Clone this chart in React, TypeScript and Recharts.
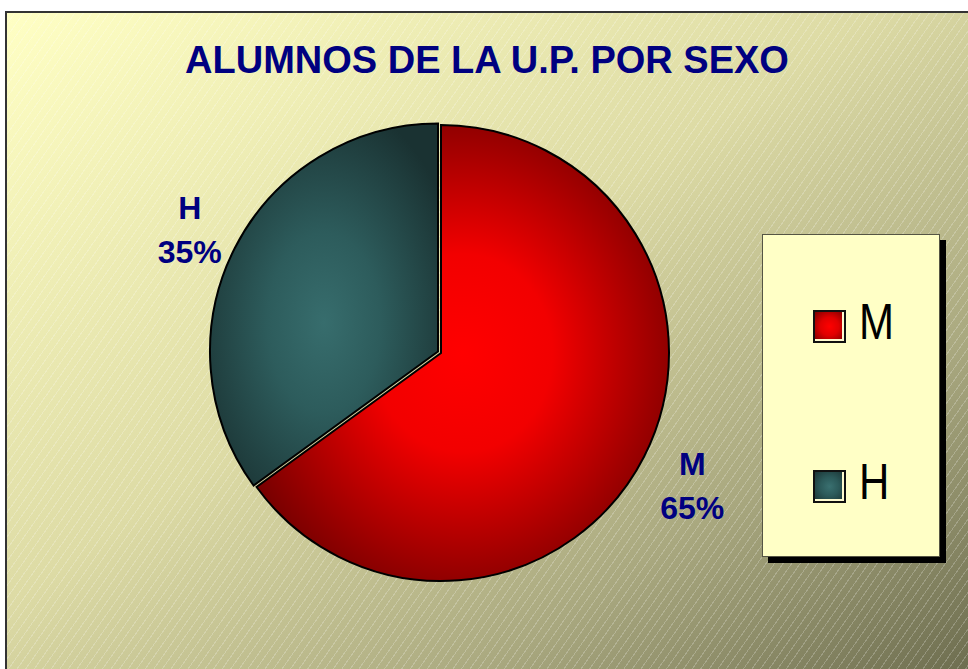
import React from "react";
import { PieChart, Pie, Cell, Legend } from "recharts";

// data
const categories = ["M", "H"];
const values = [65, 35];

const sliceFills = ["url(#grad-m)", "url(#grad-h)"];
const swatchBg: Record<string, string> = {
  M: "radial-gradient(circle, #ff0000 0%, #e00000 45%, #7a0000 100%)",
  H: "radial-gradient(circle, #3a7070 0%, #2c5a5a 45%, #1b3434 100%)",
};

const data = categories.map((name, i) => ({ name, value: values[i] }));

const RAD = Math.PI / 180;
const NAVY = "#000080";

// two-line "name / pct" label outside the slice
function renderLabel(props: any) {
  const { cx, cy, midAngle, outerRadius, percent, name } = props;
  const r = outerRadius + 54;
  const x = cx + r * Math.cos(-midAngle * RAD);
  const y = cy + r * Math.sin(-midAngle * RAD);
  return (
    <text
      x={x}
      y={y}
      textAnchor="middle"
      fill={NAVY}
      fontFamily="'Liberation Sans', Arial, sans-serif"
      fontWeight="bold"
      fontSize={32}
    >
      <tspan x={x} y={y - 6}>
        {name}
      </tspan>
      <tspan x={x} y={y + 38}>
        {`${Math.round(percent * 100)}%`}
      </tspan>
    </text>
  );
}

// legend keeps the series order (M on top)
function LegendBox() {
  return (
    <div
      style={{
        width: 178,
        height: 323,
        boxSizing: "border-box",
        background: "#ffffc6",
        border: "1.5px solid #555544",
        boxShadow: "6px 6px 0 #000",
        position: "relative",
        fontFamily: "'Liberation Sans', Arial, sans-serif",
      }}
    >
      {categories.map((name, i) => (
        <div
          key={name}
          style={{
            position: "absolute",
            left: 50,
            top: 66 + i * 160,
            display: "flex",
            alignItems: "center",
          }}
        >
          <div
            style={{
              width: 33,
              height: 33,
              boxSizing: "border-box",
              border: "2px solid #111",
              boxShadow: "inset -2px -2px 0 #fffbd0",
              background: swatchBg[name],
            }}
          />
          <span
            style={{
              display: "inline-block",
              marginLeft: 13,
              fontSize: 50,
              lineHeight: "50px",
              color: "#000",
              transform: "translateY(-4px) scaleX(0.84)",
              transformOrigin: "left center",
            }}
          >
            {name}
          </span>
        </div>
      ))}
    </div>
  );
}

export default function App() {
  return (
    <div>
      <style>{`body{margin:0;overflow:hidden}`}</style>
      <div
        style={{
          position: "absolute",
          left: 5,
          top: 11,
          width: 963,
          height: 658,
          boxSizing: "border-box",
          borderLeft: "2px solid #333",
          borderTop: "2px solid #333",
          background:
            "repeating-linear-gradient(125deg, rgba(255,255,255,0) 0px, rgba(255,255,255,0) 6px, rgba(255,255,255,0.22) 6px, rgba(255,255,255,0.22) 7px), linear-gradient(to bottom right, #ffffc4 0%, #dddba5 45%, #a9a87f 75%, #6e6e50 100%)",
        }}
      >
        <div
          style={{
            position: "absolute",
            left: -4,
            top: 28,
            width: 968,
            textAlign: "center",
            fontFamily: "'Liberation Sans', Arial, sans-serif",
            fontWeight: "bold",
            fontSize: 38,
            lineHeight: "38px",
            color: NAVY,
          }}
        >
          ALUMNOS DE LA U.P. POR SEXO
        </div>
        <div style={{ position: "absolute", left: 0, top: 0 }}>
          <PieChart
            width={961}
            height={656}
            margin={{ top: 0, right: 0, bottom: 0, left: 0 }}
          >
            <defs>
              <radialGradient id="grad-m" cx="0.5" cy="0.5" r="0.62">
                <stop offset="0%" stopColor="#ff0000" />
                <stop offset="35%" stopColor="#f20000" />
                <stop offset="100%" stopColor="#680000" />
              </radialGradient>
              <radialGradient id="grad-h" cx="0.5" cy="0.55" r="0.62">
                <stop offset="0%" stopColor="#376d6d" />
                <stop offset="40%" stopColor="#2d5c5c" />
                <stop offset="100%" stopColor="#1a3232" />
              </radialGradient>
            </defs>
            <Pie
              data={data}
              dataKey="value"
              nameKey="name"
              cx={434}
              cy={340}
              outerRadius={228}
              startAngle={90}
              endAngle={-270}
              stroke="#000"
              strokeWidth={2}
              label={renderLabel}
              labelLine={false}
              isAnimationActive={false}
            >
              {data.map((d, i) => (
                <Cell
                  key={d.name}
                  fill={sliceFills[i]}
                  style={
                    d.name === "H"
                      ? { transform: "translate(-3px, -1.5px)" }
                      : undefined
                  }
                />
              ))}
            </Pie>
            <Legend
              layout="vertical"
              align="right"
              verticalAlign="top"
              wrapperStyle={{ left: 755, top: 221, width: 190, right: "auto" }}
              content={() => <LegendBox />}
            />
          </PieChart>
        </div>
      </div>
    </div>
  );
}
